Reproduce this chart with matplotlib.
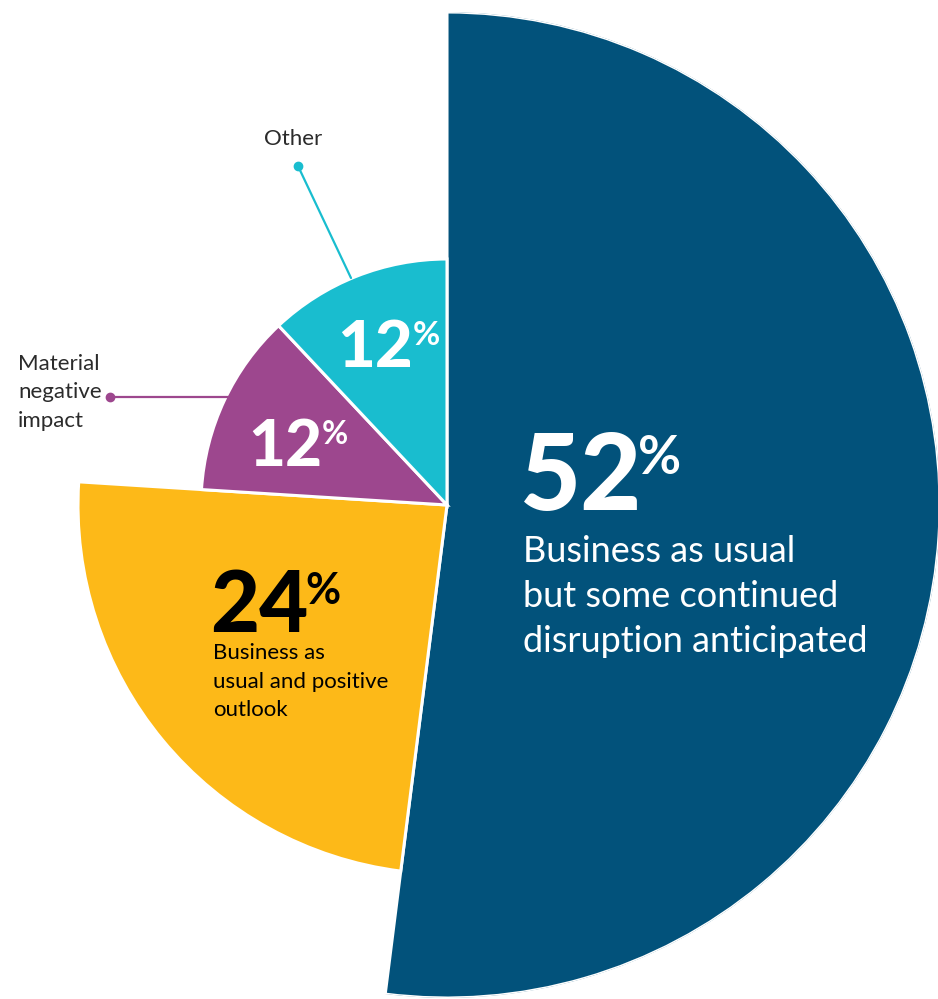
import numpy as np
import matplotlib.pyplot as plt

# survey shares, clockwise from 12 o'clock
labels = ['Business as usual but some continued disruption anticipated',
          'Business as usual and positive outlook',
          'Material negative impact',
          'Other']
shares = [52, 24, 12, 12]
radii = [493, 369, 246, 246]   # slice length in pixels
colors = ['#02527B', '#FDB918', '#9D478E', '#19BDCF']

W, H = 938, 999
cx, cy = 447, 505            # pie centre (image pixels, y down)
rmax = 493

fig = plt.figure(figsize=(W / 100, H / 100), dpi=100)

# polar axes sized so 1 radial unit == 1 pixel
ax = fig.add_axes([(cx - rmax) / W, (H - cy - rmax) / H, 2 * rmax / W, 2 * rmax / H],
                  projection='polar')
ax.set_theta_zero_location('N')
ax.set_theta_direction(-1)
ax.set_rlim(0, rmax)
ax.set_axis_off()

widths = np.array(shares) / 100 * 2 * np.pi
starts = np.concatenate([[0], np.cumsum(widths)[:-1]])
ax.bar(starts, radii, width=widths, bottom=0, align='edge', color=colors,
       edgecolor='white', linewidth=2.2)

# overlay in pixel coordinates for labels
ov = fig.add_axes([0, 0, 1, 1], facecolor='none')
ov.set_xlim(0, W)
ov.set_ylim(H, 0)
ov.set_axis_off()

FONT = 'Lato'
dark = '#2b2b2b'


def big_pct(x, y, num, num_size, pct_size, color, drop=2, tuck=0):
    t = ov.text(x, y, num, fontsize=num_size, fontweight='black', family=FONT,
                color=color, va='baseline', ha='left')
    ov.annotate('%', xy=(1, 1), xycoords=t, xytext=(-tuck, -drop),
                textcoords='offset pixels', fontsize=pct_size, fontweight='bold',
                family=FONT, color=color, va='top', ha='left')


def lines(x, y0, step, rows, size, color):
    for i, r in enumerate(rows):
        ov.text(x, y0 + i * step, r, fontsize=size, family=FONT, color=color,
                va='baseline', ha='left')


# 52%
big_pct(520, 510, '52', 76, 38, 'white', drop=4, tuck=4)
lines(523, 562, 45, ['Business as usual', 'but some continued',
                     'disruption anticipated'], 26, 'white')

# 24%
big_pct(210, 632, '24', 61, 31, 'black', drop=3, tuck=3)
lines(213, 659, 28.5, ['Business as', 'usual and positive', 'outlook'], 16, 'black')

# 12% other / material
big_pct(337, 367, '12', 47, 24, 'white', drop=2)
big_pct(248, 466, '12', 46, 23, 'white', drop=2)

# callouts
ov.text(293, 145, 'Other', fontsize=16, family=FONT, color=dark, ha='center',
        va='baseline')
ov.plot([298, 351], [166, 278], color=colors[3], lw=1.6, solid_capstyle='round')
ov.plot([298], [166], 'o', color=colors[3], ms=6)

lines(18, 370, 28.5, ['Material', 'negative', 'impact'], 16, dark)
ov.plot([110, 228], [397, 397], color=colors[2], lw=1.6)
ov.plot([110], [397], 'o', color=colors[2], ms=6)

fig.savefig('out.png', dpi=100)
